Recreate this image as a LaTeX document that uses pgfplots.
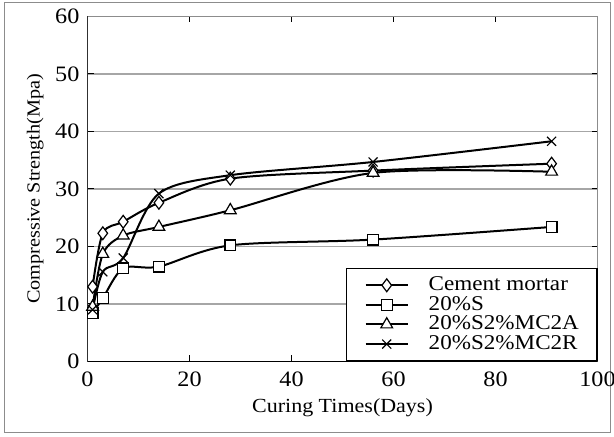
\documentclass[border=0pt]{standalone}
\usepackage{fontspec}
\setmainfont{Liberation Serif}[FakeStretch=1.1]
\usepackage{pgfplots}
\pgfplotsset{compat=1.18}

\begin{document}
\begin{tikzpicture}
% 1px of the reference = 0.5pt
\draw[black!45, line width=0.6pt] (-41.5pt,-35.5pt) rectangle (261.5pt,179.5pt);
\begin{axis}[
  at={(0,0)}, anchor=south west,
  scale only axis, width=255pt, height=172.5pt,
  xmin=0, xmax=100, ymin=0, ymax=60,
  xtick={0,20,...,100}, ytick={0,10,...,60},
  ymajorgrids, grid style={black!35, line width=0.7pt},
  axis line style={black!45, line width=0.6pt},
  tick style={black, line width=0.5pt}, tick align=inside,
  major tick length=3pt,
  tick label style={font=\fontsize{11}{12}\selectfont},
  /pgf/number format/assume math mode=true,
  xticklabel style={yshift=-1.5pt}, yticklabel style={xshift=-0.5pt},
  xlabel={Curing Times(Days)}, ylabel={Compressive Strength(Mpa)},
  xlabel style={font=\fontsize{10}{11}\selectfont, yshift=1pt},
  ylabel style={font=\fontsize{9.2}{10}\selectfont, yshift=-1pt},
  every axis plot/.append style={black, line width=1pt, smooth, tension=0.5,
    mark options={solid, fill=white, line width=0.6pt}},
  legend style={at={(1,0)}, anchor=south east, draw=black, line width=0.6pt,
    font=\fontsize{10.5}{11}\selectfont, inner xsep=9pt, inner ysep=3.5pt,
    row sep=0pt, cells={anchor=west},
    nodes={inner xsep=0pt, inner ysep=0pt, minimum height=9.8pt},
    /tikz/every odd column/.append style={column sep=10pt}},
  legend image code/.code={
    \draw[#1, smooth=false] (0pt,0pt) -- (21pt,0pt);
    \draw[#1, only marks] plot coordinates {(10.5pt,0pt)};},
  legend cell align=left,
]
\addplot[mark=diamond*, mark size=3.2pt] coordinates {
  (1,13.0) (3,22.3) (7,24.3) (14,27.6) (28,31.8) (56,33.2) (91,34.4)};
\addlegendentry{Cement mortar}
\addplot[mark=square*, mark size=2.7pt] coordinates {
  (1,8.4) (3,11.0) (7,16.2) (14,16.5) (28,20.2) (56,21.2) (91,23.4)};
\addlegendentry{20\%S}
\addplot[mark=triangle*, mark size=3.4pt] coordinates {
  (1,9.5) (3,18.7) (7,21.9) (14,23.4) (28,26.3) (56,32.8) (91,33.0)};
\addlegendentry{20\%S2\%MC2A}
\addplot[mark=x, mark size=3.2pt] coordinates {
  (1,9.0) (3,15.6) (7,18.0) (14,29.2) (28,32.4) (56,34.7) (91,38.3)};
\addlegendentry{20\%S2\%MC2R}
\draw[black, line width=0.8pt] (axis cs:0,60) -- (axis cs:0,0) -- (axis cs:100,0);
\end{axis}
\pgfresetboundingbox
\useasboundingbox (-43.75pt,-37.75pt) rectangle (263.25pt,180.75pt);
\end{tikzpicture}
\end{document}
